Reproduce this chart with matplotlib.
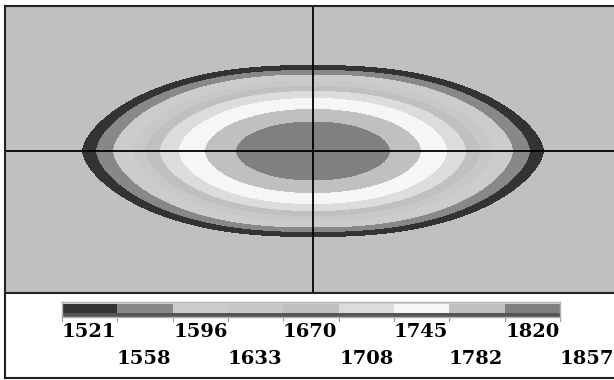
import matplotlib
matplotlib.use("Agg")
import matplotlib.pyplot as plt
from matplotlib.colors import ListedColormap, BoundaryNorm
import numpy as np

# contour levels shown on the colour bar
levels = [1521, 1558, 1596, 1633, 1670, 1708, 1745, 1782, 1820, 1857]
bin_colors = ['#333333', '#888888', '#cccccc', '#c8c8c8', '#c0c0c0',
              '#dcdcdc', '#f6f6f6', '#c0c0c0', '#808080']
background = '#c0c0c0'

# boundary of each level (outer edge), half width / half height
half_w = [231, 217, 200, 180, 167, 153, 134, 108, 77]
half_h = [86, 81, 76.5, 70, 65, 60, 53, 42, 29.5]
# shape exponents of each boundary (outer ones pointed at the tips)
exp_x = [2.4, 2.4, 2.35, 2.3, 2.25, 2.2, 2.15, 2.1, 2.05]
exp_y = [1.6, 1.62, 1.65, 1.7, 1.72, 1.75, 1.8, 1.85, 1.9]

# plot window (pixel-like units round the crosshair)
x0, x1 = -308, 303
y0, y1 = -142, 145

xs = np.arange(x0, x1) + 0.5
ys = np.arange(y0, y1) + 0.5
X, Y = np.meshgrid(xs, ys)
Z = np.full(X.shape, levels[0] - 10.0)
for k in range(len(half_w)):
    inside = (np.abs(X / half_w[k]) ** exp_x[k] + np.abs(Y / half_h[k]) ** exp_y[k]) <= 1
    Z[inside] = (levels[k] + levels[k + 1]) / 2.0

cmap = ListedColormap(bin_colors)
cmap.set_under(background)
norm = BoundaryNorm(levels, cmap.N)

fig = plt.figure(figsize=(6.14, 3.80), dpi=100, facecolor='white')

ax = fig.add_axes([5 / 614, 1 - 293 / 380, 611 / 614, 287 / 380])
ax.imshow(Z, extent=(x0, x1, y0, y1), origin='lower', cmap=cmap, norm=norm,
          interpolation='nearest', aspect='auto')
ax.axvline(0, color='black', lw=1.3)
ax.axhline(0, color='black', lw=1.3)
ax.set_xlim(x0, x1)
ax.set_ylim(y0, y1)
ax.set_xticks([])
ax.set_yticks([])
for s in ax.spines.values():
    s.set_color('#222222')
    s.set_linewidth(1.5)

# bottom panel
pan = fig.add_axes([5 / 614, 1 - 378 / 380, 611 / 614, 85 / 380])
pan.set_facecolor('white')
pan.set_xticks([])
pan.set_yticks([])
for s in pan.spines.values():
    s.set_color('#222222')
    s.set_linewidth(1.5)

# colour bar
cb = fig.add_axes([62 / 614, 1 - 317 / 380, 498 / 614, 15 / 380])
widths = np.diff(levels)
cb.bar(levels[:-1], [0.55] * 9, width=widths, bottom=0.3, align='edge',
       color=bin_colors, edgecolor='none')
cb.bar(levels[:-1], [0.3] * 9, width=widths, bottom=0.0, align='edge',
       color='#555555', edgecolor='none')
cb.bar(levels[:-1], [0.15] * 9, width=widths, bottom=0.85, align='edge',
       color='#d8d8d8', edgecolor='none')
cb.set_xlim(levels[0], levels[-1])
cb.set_ylim(0, 1.0)
cb.set_xticks([])
cb.set_yticks([])
for s in cb.spines.values():
    s.set_color('#b0b0b0')
    s.set_linewidth(1.0)

for i, lv in enumerate(levels):
    cb.plot([lv, lv], [0.0, -0.27], color='#999999', lw=0.8, clip_on=False)
    ytop = 323 if i % 2 == 0 else 350
    xf = cb.transData.transform((lv, 0))[0] / fig.bbox.width
    fig.text(xf, 1 - ytop / 380, str(lv), ha='left', va='top', fontsize=14,
             fontweight='bold', family='DejaVu Serif', color='black')

fig.savefig('out.png', dpi=100, facecolor='white')
